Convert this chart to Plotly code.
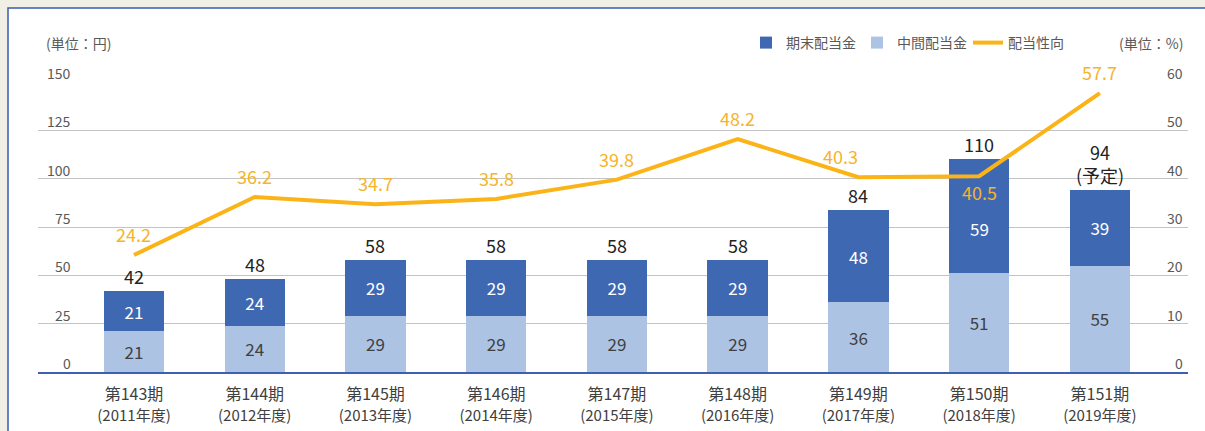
import plotly.graph_objects as go

# ---- data ----
periods = ["第143期", "第144期", "第145期", "第146期", "第147期", "第148期", "第149期", "第150期", "第151期"]
years = ["(2011年度)", "(2012年度)", "(2013年度)", "(2014年度)", "(2015年度)", "(2016年度)", "(2017年度)", "(2018年度)", "(2019年度)"]
interim = [21, 24, 29, 29, 29, 29, 36, 51, 55]       # 中間配当金
year_end = [21, 24, 29, 29, 29, 29, 48, 59, 39]      # 期末配当金
payout = [24.2, 36.2, 34.7, 35.8, 39.8, 48.2, 40.3, 40.5, 57.7]  # 配当性向
total_labels = ["42", "48", "58", "58", "58", "58", "84", "110", "94<br>(予定)"]
left_ticks = [0, 25, 50, 75, 100, 125, 150]
right_ticks = [0, 10, 20, 30, 40, 50, 60]

FONT = "Noto Sans CJK JP"
DARK = "#3f68b3"
LIGHT = "#adc3e4"
ORANGE = "#fbb417"
ORANGE_TXT = "#f6b42a"
GRAY_TXT = "#595959"

x = list(range(len(periods)))
ticktext = [f"{p}<br><span style='font-size:15px'>{y}</span>" for p, y in zip(periods, years)]

# the 150th-period year-end label sits lower (placed as annotation below)
SHIFTED = 7
year_end_text = ["" if i == SHIFTED else str(v) for i, v in enumerate(year_end)]

fig = go.Figure()
fig.add_trace(go.Bar(
    x=x, y=interim, name="中間配当金", marker=dict(color=LIGHT, line=dict(width=0)),
    width=0.5, text=[str(v) for v in interim], textposition="inside",
    insidetextanchor="middle", textangle=0,
    textfont=dict(family=FONT, size=17, color="#404040"), legendrank=2,
))
fig.add_trace(go.Bar(
    x=x, y=year_end, name="期末配当金", marker=dict(color=DARK, line=dict(width=0)),
    width=0.5, text=year_end_text, textposition="inside",
    insidetextanchor="middle", textangle=0,
    textfont=dict(family=FONT, size=17, color="#ffffff"), legendrank=1,
))
fig.add_trace(go.Scatter(
    x=x, y=payout, name="配当性向", mode="lines", yaxis="y2",
    line=dict(color=ORANGE, width=4), legendrank=3,
))

annotations = []
annotations.append(dict(x=SHIFTED, y=interim[SHIFTED] + year_end[SHIFTED] / 2, xref="x", yref="y",
                        text=str(year_end[SHIFTED]), showarrow=False, yanchor="middle", yshift=-12,
                        font=dict(family=FONT, size=17, color="#ffffff")))
# totals above bars
for i, (a, b, t) in enumerate(zip(interim, year_end, total_labels)):
    annotations.append(dict(x=i, y=a + b, xref="x", yref="y", text=t, showarrow=False,
                            yanchor="bottom", yshift=0,
                            font=dict(family=FONT, size=18, color="#222222")))
# payout labels
for i, v in enumerate(payout):
    below = (i == 7)
    xs = -18 if i == 6 else 0
    annotations.append(dict(x=i, y=v, xref="x", yref="y2", text=f"{v:.1f}", showarrow=False,
                            yanchor="middle", yshift=(-16 if below else 21), xshift=xs,
                            font=dict(family=FONT, size=18, color=ORANGE_TXT)))
# left tick labels
for t in left_ticks:
    annotations.append(dict(x=(73 - 38) / 1150, y=t, xref="paper", yref="y", text=str(t),
                            showarrow=False, xanchor="right", yanchor="bottom", yshift=-3,
                            font=dict(family=FONT, size=14, color=GRAY_TXT)))
# right tick labels
for t in right_ticks:
    annotations.append(dict(x=(1185 - 38) / 1150, y=t, xref="paper", yref="y2", text=str(t),
                            showarrow=False, xanchor="right", yanchor="bottom", yshift=-3,
                            font=dict(family=FONT, size=14, color=GRAY_TXT)))
# unit labels
annotations.append(dict(x=(44 - 38) / 1150, y=(372 - 43) / 290, xref="paper", yref="paper",
                        text="(単位：円)", showarrow=False, xanchor="left", yanchor="middle",
                        font=dict(family=FONT, size=14, color=GRAY_TXT)))
annotations.append(dict(x=(1185 - 38) / 1150, y=(372 - 43) / 290, xref="paper", yref="paper",
                        text="(単位：%)", showarrow=False, xanchor="right", yanchor="middle",
                        font=dict(family=FONT, size=14, color=GRAY_TXT)))

fig.update_layout(
    width=1205, height=431,
    margin=dict(l=38, r=17, t=82, b=59),
    paper_bgcolor="#f2efe6",
    plot_bgcolor="rgba(0,0,0,0)",
    barmode="stack",
    font=dict(family=FONT, color=GRAY_TXT),
    showlegend=True,
    legend=dict(orientation="h", x=(746 - 38) / 1150, xanchor="left",
                y=(372 - 43) / 290, yanchor="middle", traceorder="normal",
                font=dict(family=FONT, size=14, color=GRAY_TXT),
                bgcolor="rgba(0,0,0,0)", itemwidth=30, tracegroupgap=0,
                entrywidth=66, entrywidthmode="pixels"),
    xaxis=dict(range=[-0.795, 8.73], tickmode="array", tickvals=x, ticktext=ticktext,
               tickfont=dict(family=FONT, size=16, color="#404040"), automargin=False,
               showgrid=False, zeroline=False, showline=True, linecolor="#3f5fb0",
               linewidth=1.5, ticks="", ticklabelstandoff=7),
    yaxis=dict(range=[0, 150], tickvals=left_ticks, showticklabels=False, automargin=False,
               showgrid=True, gridcolor="#c4c4c4", gridwidth=1, zeroline=False),
    yaxis2=dict(range=[0, 60], overlaying="y", side="right", showticklabels=False,
                automargin=False, showgrid=False, zeroline=False),
    annotations=annotations,
    shapes=[dict(type="rect", xref="paper", yref="paper", layer="below",
                 x0=(8 - 38) / 1150, x1=(1215 - 38) / 1150,
                 y0=(372 - 445) / 290, y1=(372 - 8) / 290,
                 fillcolor="#ffffff", line=dict(color="#3a5cb0", width=1.5))],
    uniformtext=dict(minsize=10, mode="show"),
)

fig.write_html(
    "out.html",
    config={"displayModeBar": False},
    post_script="document.body.style.margin='0';document.body.style.overflow='hidden';"
                "document.body.style.background='#f2efe6';",
)
